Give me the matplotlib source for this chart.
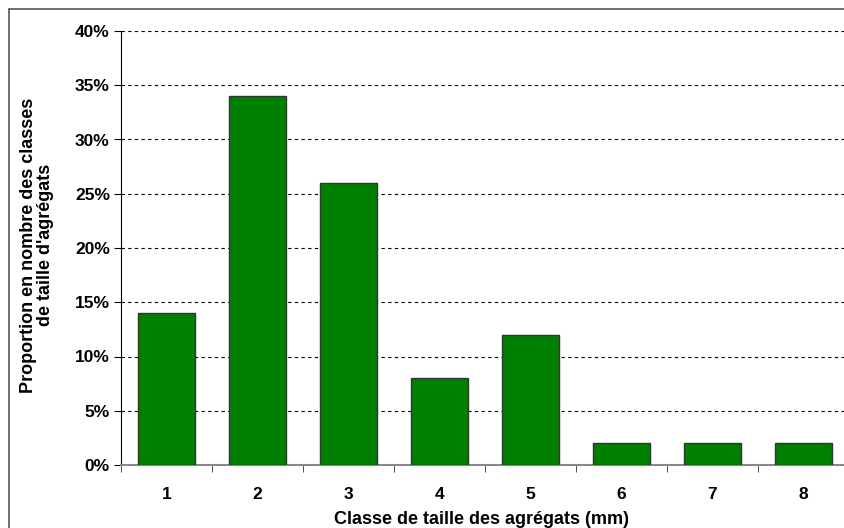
import matplotlib
matplotlib.use("Agg")
import matplotlib.pyplot as plt
from matplotlib.ticker import FuncFormatter, FixedLocator, NullFormatter
from matplotlib.patches import Rectangle

categories = ["1", "2", "3", "4", "5", "6", "7", "8"]
values = [14, 34, 26, 8, 12, 2, 2, 2]
yticks = [0, 5, 10, 15, 20, 25, 30, 35, 40]

W, H = 844, 528
fig = plt.figure(figsize=(W/100, H/100), dpi=100)
plt.rcParams['font.family'] = ['Liberation Sans', 'DejaVu Sans']

# outer frame (top-left corner visible, rest cut off)
fig.patches.append(Rectangle((9/W, -0.1), 1, 1.1 - 9/H, transform=fig.transFigure,
                             fill=False, edgecolor='#555555', linewidth=1.2, clip_on=False))

left, right, top, bottom = 121, 849, 31, 465
ax = fig.add_axes([left/W, 1 - bottom/H, (right-left)/W, (bottom-top)/H])

x = list(range(len(categories)))
ax.bar(x, values, width=0.62, color='#008000', edgecolor='#333333', linewidth=1, zorder=3)

ax.set_xlim(-0.5, len(categories) - 0.5)
ax.set_ylim(0, 40)
ax.set_yticks(yticks)
ax.yaxis.set_major_formatter(FuncFormatter(lambda v, p: f"{int(v)}%"))
ax.grid(axis='y', linestyle=(0, (3, 3)), color='black', linewidth=0.8, zorder=0)

ax.set_xticks(x)
ax.set_xticklabels(categories)
ax.tick_params(axis='x', which='major', length=0, pad=16)
ax.xaxis.set_minor_locator(FixedLocator([i + 0.5 for i in range(-1, len(categories))]))
ax.xaxis.set_minor_formatter(NullFormatter())
ax.tick_params(axis='x', which='minor', length=5, color='#333333', direction='out')
ax.tick_params(axis='y', length=5, color='black', pad=3)

for lbl in ax.get_xticklabels() + ax.get_yticklabels():
    lbl.set_fontweight('bold')
    lbl.set_fontsize(12.5)

for s in ['top', 'right']:
    ax.spines[s].set_visible(False)
ax.spines['left'].set_color('black')
ax.spines['bottom'].set_color('#888888')
ax.spines['bottom'].set_linewidth(1.5)

fig.text(482/W, 1 - 519/H, "Classe de taille des agrégats (mm)", ha='center', va='center',
         fontsize=13, fontweight='bold')
fig.text(37/W, 1 - 245/H, "Proportion en nombre des classes\nde taille d'agrégats", ha='center',
         va='center', rotation=90, fontsize=13, fontweight='bold', linespacing=1.05)

fig.savefig("out.png", dpi=100)
